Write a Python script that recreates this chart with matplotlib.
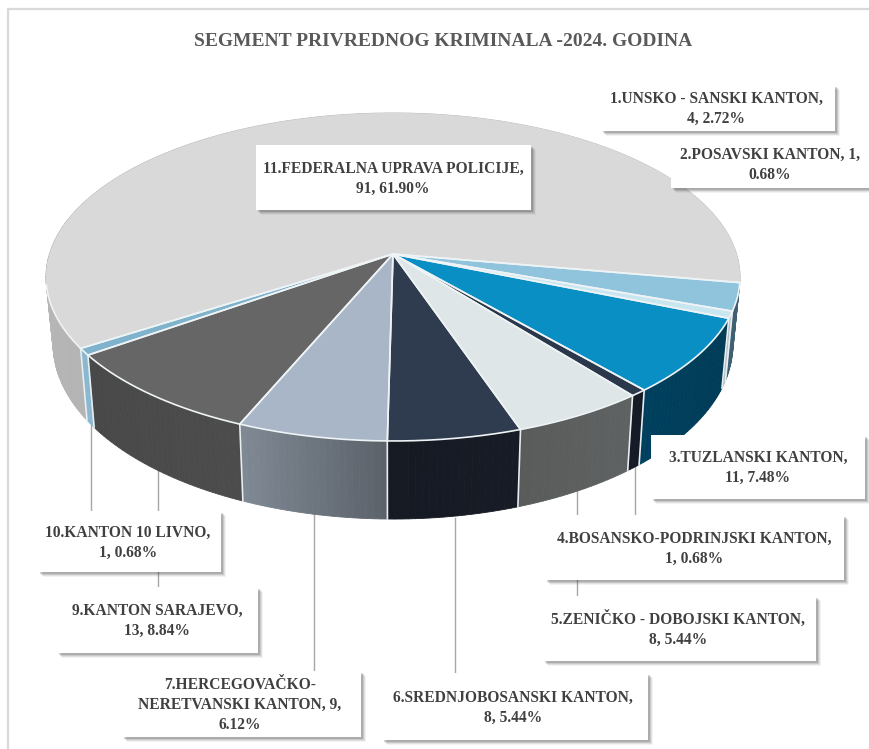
import numpy as np
import matplotlib
matplotlib.use("Agg")
import matplotlib.pyplot as plt
from matplotlib.patches import Polygon, Rectangle

title = "SEGMENT PRIVREDNOG KRIMINALA -2024. GODINA"

# kantoni, redom kako idu na piti (8. kanton nema slucajeva)
values = [4, 1, 11, 1, 8, 8, 9, 13, 1, 91]
label_texts = [
    "1.UNSKO - SANSKI KANTON,\n4, 2.72%",
    "2.POSAVSKI KANTON, 1,\n0.68%",
    "3.TUZLANSKI KANTON,\n11, 7.48%",
    "4.BOSANSKO-PODRINJSKI KANTON,\n1, 0.68%",
    "5.ZENIČKO - DOBOJSKI KANTON,\n8, 5.44%",
    "6.SREDNJOBOSANSKI KANTON,\n8, 5.44%",
    "7.HERCEGOVAČKO-\nNERETVANSKI KANTON, 9,\n6.12%",
    "9.KANTON SARAJEVO,\n13, 8.84%",
    "10.KANTON 10 LIVNO,\n1, 0.68%",
    "11.FEDERALNA UPRAVA POLICIJE,\n91, 61.90%",
]

top_colors = ["#8fc4dc", "#c8e6f0", "#0a8fc4", "#2b384b", "#dfe6e8",
              "#2f3b4f", "#a9b6c7", "#666666", "#7fb2cb", "#d9d9d9"]
# boja zida na pocetku i kraju kriske, u smjeru kazaljke
wall_start = ["#3f6070", "#c2d3dc", "#003b56", "#141a26", "#5f6262",
              "#161b25", "#5c626a", "#4c4c4c", "#8ab8d0", "#c6c6c6"]
wall_end = ["#3f6070", "#a9bcc7", "#00405e", "#141a26", "#5a5c5c",
            "#151a23", "#7f8994", "#484848", "#8ab8d0", "#b4b4b4"]

# okviri za natpise: x0, x1, y0, y1 u pikselima
boxes = [(601, 835, 85, 131), (671, 869, 140, 188), (651, 865, 435, 499),
         (545, 844, 515, 580), (543, 816, 596, 661), (382, 648, 673, 740),
         (122, 361, 671, 737), (57, 258, 587, 653), (38, 221, 511, 572),
         (256, 531, 145, 210)]
text_x = [716, 770, 758, 694, 678, 513, 240, 157, 128, 393]

# linije od pite do natpisa: x, y0, y1
leaders = [(91, 425, 511), (157.5, 470, 587), (313.5, 512, 671),
           (455, 518, 673), (577, 490, 596), (635, 465, 515)]

start_angle = 100.0
persp = 0.14


def project(theta, level):
    # ugao u smjeru kazaljke od vrha -> piksel, gornja ili donja ploha pite
    u = np.sin(theta)
    v = np.cos(theta)
    if level == 0:
        ax_a, ax_b, y0 = 343.6, 160.8, 254.0
    else:
        ax_a, ax_b, y0 = 336.6, 171.6, 319.5
    d = 1 + persp * v
    return 393.0 + ax_a * u / d, y0 - ax_b * v / d


def mix(c1, c2, t):
    a = np.array(matplotlib.colors.to_rgb(c1))
    b = np.array(matplotlib.colors.to_rgb(c2))
    return a + (b - a) * t


fig = plt.figure(figsize=(8.69, 7.49), dpi=100)
ax = fig.add_axes([0, 0, 1, 1])
ax.set_xlim(0, 869)
ax.set_ylim(749, 0)
ax.axis("off")

# okvir grafikona
ax.plot([8, 8, 869], [749, 9, 9], color="#d9d9d9", lw=1.6, zorder=1)

edges = start_angle + np.concatenate([[0], np.cumsum(values)]) / sum(values) * 360.0
edges = np.radians(edges)

for x, y0, y1 in leaders:
    ax.plot([x, x], [y0, y1], color="#a6a6a6", lw=1.0, zorder=2)

# bocni zidovi, zadnja kriska prva
order = [9] + list(range(9))
for i in order:
    a0, a1 = edges[i], edges[i + 1]
    n = max(int((a1 - a0) / np.radians(1.0)), 2)
    steps = np.linspace(a0, a1, n + 1)
    for k in range(n):
        t = np.linspace(steps[k], steps[k + 1], 4)
        xt, yt = project(t, 0)
        xb, yb = project(t[::-1], 1)
        pts = np.column_stack([np.r_[xt, xb], np.r_[yt, yb]])
        col = mix(wall_start[i], wall_end[i], k / max(n - 1, 1))
        if i == 9:
            # kod zadnje kriske vidi se samo lijevi dio zida
            col = mix(wall_end[i], wall_start[i], k / max(n - 1, 1))
        ax.add_patch(Polygon(pts, closed=True, fc=col, ec=col, lw=0.6, zorder=3))

# bijele ivice izmedju zidova
for a in edges[1:10]:
    xt, yt = project(a, 0)
    xb, yb = project(a, 1)
    if yb > 300:
        ax.plot([xt, xb], [yt, yb], color="#e8edf0", lw=1.2, zorder=4)

# gornja ploha
for i in order:
    t = np.linspace(edges[i], edges[i + 1], 200)
    xs, ys = project(t, 0)
    cx, cy = 393.0, 254.0
    pts = np.column_stack([np.r_[cx, xs], np.r_[cy, ys]])
    ax.add_patch(Polygon(pts, closed=True, fc=top_colors[i], ec="none", zorder=5))
    ax.plot(np.r_[xs[0], cx, xs[-1]], np.r_[ys[0], cy, ys[-1]],
            color="#eef3f5", lw=1.2, zorder=6)

# svijetli rub prednje strane
xs, ys = project(np.linspace(edges[0], edges[9] + np.radians(22), 400), 0)
ax.plot(xs, ys, color="#eef3f5", lw=1.2, zorder=6)

# natpisi
for i, (x0, x1, y0, y1) in enumerate(boxes):
    for off, al in [(5, 0.06), (4, 0.1), (3, 0.15), (2, 0.2)]:
        ax.add_patch(Rectangle((x0 + off, y0 + off), x1 - x0, y1 - y0,
                               fc="#404040", ec="none", alpha=al, zorder=7))
    ax.add_patch(Rectangle((x0, y0), x1 - x0, y1 - y0, fc="white", ec="none", zorder=8))
    ax.text(text_x[i], (y0 + y1) / 2 + 1, label_texts[i], ha="center", va="center",
            family="Liberation Serif", weight="bold", fontsize=11.2,
            color="#404040", linespacing=1.35, zorder=9)

ax.text(443.5, 42, title, ha="center", va="center", family="Liberation Serif",
        weight="bold", fontsize=14, color="#595959", zorder=9)

fig.savefig("out.png", dpi=100)
